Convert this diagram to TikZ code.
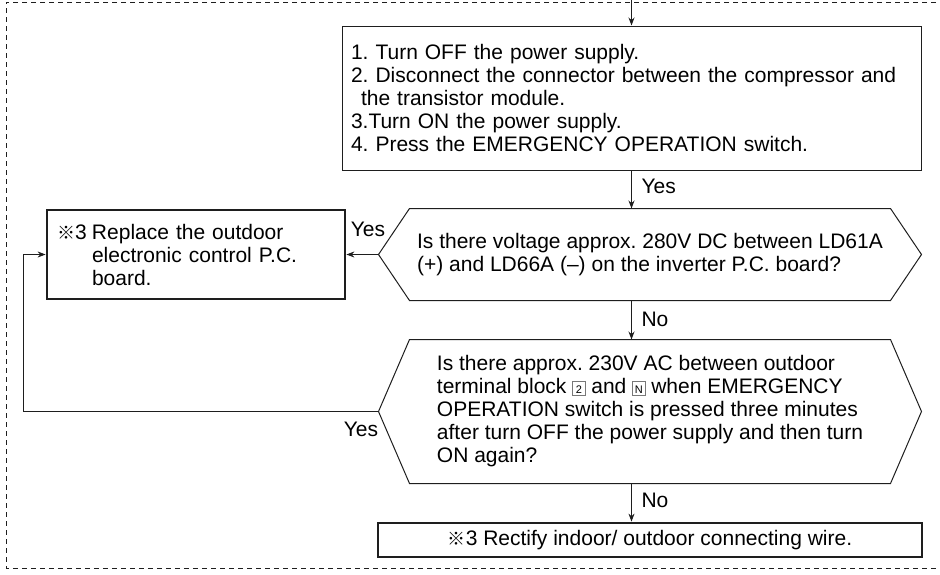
\documentclass[tikz,border=0pt]{standalone}
\usepackage{fontspec}
\setmainfont{Liberation Sans}
\newfontfamily\cjkfont{Noto Sans CJK JP}
\usetikzlibrary{arrows.meta}
\definecolor{ink}{RGB}{30, 30, 30}
\definecolor{keyline}{RGB}{120, 120, 120}
\newcommand{\refmark}{{\cjkfont\fontsize{18}{18}\selectfont ※}}
\newcommand{\sqkey}[1]{{\setlength{\fboxsep}{1.5pt}\setlength{\fboxrule}{0.6pt}%
  \fcolorbox{keyline}{white}{\rule{0pt}{11pt}\makebox[9pt]{\fontsize{11}{11}\selectfont #1}}}}
\frenchspacing

\begin{document}
\begin{tikzpicture}[x=1pt, y=-1pt, line width=1pt, draw=ink,
    txt/.style={font=\fontsize{21}{23}\selectfont, text=black},
    stepbox/.style={txt, draw, inner xsep=9pt, inner ysep=0pt, align=left},
    fixbox/.style={stepbox, line width=2.8pt},
    hexnode/.style={txt, minimum width=542pt, inner sep=0pt, align=left},
    lbl/.style={txt, inner sep=0pt},
    arr/.style={-{Stealth[length=8pt, width=6pt]}},
    frame/.style={dash pattern=on 5pt off 4pt, line width=0.9pt}]
  \useasboundingbox (0,0) rectangle (940,574);
  \draw[frame] (945,2) -- (6,2) -- (6,568) -- (945,568);

  \node[stepbox, minimum width=579pt, minimum height=144pt, text width=561pt] (prep) at (631.5,98)
    {1. Turn OFF the power supply.\\
     2. Disconnect the connector between the compressor and\\
     \hspace*{10pt}the transistor module.\\
     3.Turn ON the power supply.\\
     4. Press the EMERGENCY OPERATION switch.};
  \node[hexnode, minimum height=91pt] (dccheck) at (650,254.5)
    {Is there voltage approx. 280V DC between LD61A\\
     (+) and LD66A (--) on the inverter P.C. board?};
  \node[hexnode, minimum height=143pt] (accheck) at (650,411.5)
    {Is there approx. 230V AC between outdoor\\
     terminal block \sqkey{2} and \sqkey{N} when EMERGENCY\\
     OPERATION switch is pressed three minutes\\
     after turn OFF the power supply and then turn\\
     ON again?};
  \node[fixbox, minimum width=298pt, minimum height=89pt, text width=278pt] (pcb) at (196,254.5)
    {\makebox[35pt][l]{\refmark3}Replace the outdoor\\
     \hspace*{35pt}electronic control P.C.\\
     \hspace*{35pt}board.};
  \node[fixbox, minimum width=544pt, minimum height=34pt, align=center] (wire) at (650,540)
    {\refmark3 Rectify indoor/ outdoor connecting wire.};

  % hexagon outlines
  \foreach \q in {dccheck, accheck}
    \draw (\q.west) -- ([xshift=31pt]\q.north west) -- ([xshift=-31pt]\q.north east) -- (\q.east)
      -- ([xshift=-31pt]\q.south east) -- ([xshift=31pt]\q.south west) -- cycle;

  \coordinate (entry) at (631.5,0);
  \coordinate (back) at (23,411.5);
  \draw[arr] (entry) -- (prep.north);
  \draw[arr] (prep.south) -- (prep.south |- dccheck.north);
  \draw[arr] (prep.south |- dccheck.south) -- (prep.south |- accheck.north);
  \draw[arr] (prep.south |- accheck.south) -- (prep.south |- wire.north);
  \draw[arr] (dccheck.west) -- (pcb.east);
  \draw[arr] (accheck.west) -- (back) |- (pcb.west);

  \node[lbl, anchor=west] (yesdc) at (641,186) {Yes};
  \node[lbl] (yespcb) at (368,229) {Yes};
  \node[lbl, anchor=west] (nodc) at (641,319) {No};
  \node[lbl] (yesac) at (361,429) {Yes};
  \node[lbl, anchor=west] (noac) at (641,500) {No};
\end{tikzpicture}
\end{document}
